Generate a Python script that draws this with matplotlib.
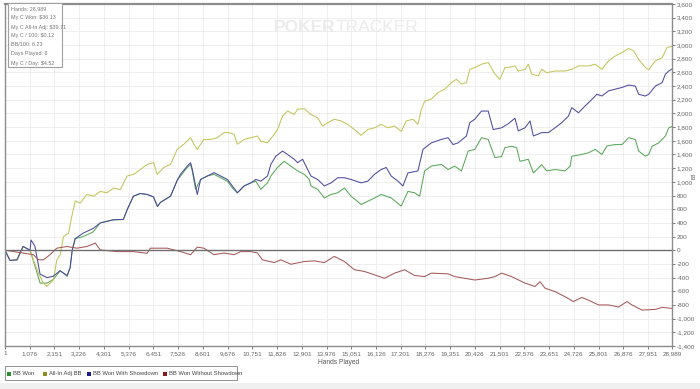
import numpy as np
import matplotlib
matplotlib.use("Agg")
import matplotlib.pyplot as plt
from matplotlib.ticker import FuncFormatter
from matplotlib.patches import Rectangle

plt.rcParams["font.family"] = ["Liberation Sans", "DejaVu Sans"]

# hands played / BB values
green_x = [1, 218, 523, 785, 1090, 1221, 1526, 1831, 2093, 2398, 2703, 2834, 2921, 3052, 3401, 3837,
           4142, 4709, 5145, 5319, 5581, 5886, 6191, 6453, 6627, 6758, 7194, 7499, 7630, 7920, 8066,
           8139, 8284, 8502, 8793, 9084, 9374, 9665, 9883, 10101, 10392, 10682, 10900, 11118, 11409,
           11554, 11845, 12136, 12426, 12717, 13008, 13226, 13298, 13589, 13880, 14170, 14461, 14752,
           15042, 15478, 15914, 16350, 16786, 17222, 17512, 17803, 18021, 18239, 18530, 18966, 19256,
           19547, 19838, 20129, 20419, 20710, 21001, 21292, 21582, 21728, 22018, 22236, 22381, 22745,
           22963, 23326, 23544, 23907, 24343, 24561, 24634, 25070, 25361, 25652, 25942, 26160, 26523,
           26814, 27104, 27395, 27540, 27831, 27976, 28122, 28413, 28703, 28849, 28989]
green_y = [0, -150, -140, 55, 0, -140, -480, -480, -430, -300, -380, -250, 0, 170, 200, 270,
           400, 445, 450, 600, 790, 830, 815, 780, 640, 700, 790, 1030, 1085, 1210, 1255,
           1160, 890, 1035, 1085, 1110, 1060, 1010, 910, 840, 940, 985, 1010, 890, 985,
           1085, 1210, 1300, 1230, 1160, 1110, 1035, 940, 890, 765, 815, 840, 910,
           790, 670, 740, 815, 765, 645, 860, 840, 790, 1160, 1230, 1255, 1180,
           1230, 1160, 1450, 1475, 1645, 1620, 1355, 1370, 1500, 1520, 1500, 1300, 1330,
           1130, 1250, 1160, 1180, 1160, 1230, 1375, 1400, 1425, 1475, 1400, 1525, 1545,
           1545, 1645, 1620, 1450, 1375, 1400, 1520, 1570, 1670, 1790, 1810]

blue_x = [1, 218, 523, 785, 1090, 1133, 1300, 1526, 1831, 2093, 2398, 2703, 2834, 2921, 3052, 3401,
          3837, 4142, 4709, 5145, 5319, 5581, 5886, 6191, 6453, 6627, 6758, 7194, 7499, 7630, 7920,
          8066, 8139, 8284, 8357, 8502, 8793, 9084, 9374, 9665, 9883, 10101, 10392, 10682, 10900,
          11118, 11409, 11554, 11772, 12063, 12281, 12572, 12717, 12935, 13080, 13298, 13589, 13880,
          14170, 14461, 14752, 15042, 15478, 15769, 16059, 16350, 16568, 16786, 17077, 17295, 17512,
          17948, 18166, 18530, 18966, 19256, 19474, 19692, 20055, 20201, 20419, 20710, 21001, 21219,
          21582, 21873, 22164, 22309, 22600, 22818, 22963, 23326, 23617, 23907, 24198, 24488, 24634,
          24924, 25215, 25506, 25724, 25942, 26233, 26523, 26814, 27104, 27395, 27540, 27831, 27976,
          28267, 28558, 28703, 28849, 28989]
blue_y = [0, -150, -140, 55, 0, 150, 60, -350, -400, -380, -300, -370, -250, 0, 170, 250,
          320, 400, 445, 450, 600, 790, 830, 815, 780, 640, 700, 790, 1035, 1110, 1230,
          1280, 1185, 940, 815, 1035, 1085, 1135, 1085, 1035, 940, 840, 940, 985, 1035,
          1010, 1085, 1255, 1375, 1450, 1400, 1330, 1280, 1330, 1230, 1085, 1035, 940,
          985, 1060, 1060, 1035, 985, 1010, 1110, 1180, 1210, 1085, 1010, 940, 1130,
          1160, 1475, 1570, 1620, 1645, 1545, 1570, 1670, 1865, 1915, 2035, 2035, 1765,
          1790, 1850, 1930, 1745, 1790, 1890, 1670, 1720, 1720, 1790, 1865, 1960, 2085,
          2010, 2110, 2205, 2280, 2255, 2330, 2355, 2380, 2415, 2400, 2280, 2255, 2280,
          2400, 2450, 2575, 2620, 2650]

yellow_x = [1, 218, 523, 785, 1090, 1235, 1453, 1670, 1816, 2107, 2252, 2398, 2543, 2761, 2907, 3052,
            3270, 3561, 3852, 4142, 4433, 4724, 5014, 5305, 5595, 5886, 6176, 6467, 6612, 6903, 7194,
            7485, 7775, 8066, 8211, 8357, 8648, 8938, 9229, 9519, 9738, 9956, 10101, 10392, 10682,
            10973, 11118, 11409, 11700, 11845, 12063, 12281, 12572, 12717, 13008, 13298, 13589, 13807,
            14025, 14316, 14606, 14897, 15187, 15478, 15769, 16059, 16350, 16641, 16931, 17222, 17440,
            17730, 17948, 18094, 18239, 18530, 18821, 19111, 19402, 19620, 19838, 20055, 20201, 20419,
            20710, 21001, 21292, 21510, 21728, 22018, 22164, 22309, 22600, 22745, 22891, 23181, 23326,
            23544, 23907, 24343, 24634, 24924, 25361, 25652, 25942, 26233, 26523, 26814, 27104, 27322,
            27540, 27831, 27976, 28267, 28558, 28776, 28989]
yellow_y = [0, -150, -140, 55, 0, -140, -335, -480, -530, -430, -140, -70, 200, 250, 500, 720,
            690, 815, 790, 860, 840, 910, 885, 1085, 1110, 1180, 1255, 1280, 1110, 1210, 1255,
            1475, 1550, 1645, 1550, 1475, 1620, 1620, 1645, 1720, 1720, 1695, 1550, 1620, 1645,
            1670, 1595, 1570, 1695, 1765, 1960, 2035, 1985, 2060, 2070, 1985, 1935, 1815,
            1865, 1915, 1890, 1840, 1765, 1680, 1765, 1790, 1840, 1790, 1815, 1740, 1890,
            1915, 1840, 2060, 2180, 2210, 2305, 2355, 2450, 2500, 2430, 2450, 2645, 2670,
            2720, 2745, 2575, 2500, 2670, 2680, 2695, 2620, 2645, 2720, 2575, 2550, 2645,
            2595, 2620, 2620, 2645, 2695, 2695, 2720, 2645, 2770, 2840, 2890, 2950, 2915,
            2790, 2670, 2640, 2770, 2815, 2965, 2980]

red_x = [1, 1235, 1453, 1670, 1961, 2252, 2689, 3125, 3561, 3924, 4142, 4869, 5595, 6176, 6321, 7048,
         7630, 8066, 8357, 8648, 9084, 9519, 9956, 10247, 10682, 10973, 11191, 11700, 11990, 12426,
         13008, 13444, 13880, 14316, 14752, 15187, 15623, 16059, 16495, 16931, 17367, 17803, 18239,
         18530, 19256, 19547, 19983, 20419, 21001, 21292, 21582, 22018, 22600, 23036, 23254, 23472,
         23907, 24343, 24706, 25070, 25361, 25797, 26233, 26669, 27032, 27250, 27686, 28267, 28558,
         28989]
red_y = [0, -65, -140, -140, -65, 30, 55, 30, 55, 105, 5, -20, -20, -45, 30, 30,
         -20, -65, 45, 30, -65, -40, -65, -20, -20, -40, -140, -180, -140, -205,
         -165, -155, -180, -90, -165, -285, -310, -360, -410, -335, -285, -370, -385,
         -335, -345, -385, -410, -435, -410, -385, -335, -385, -480, -530, -460, -555,
         -605, -680, -750, -690, -730, -800, -800, -830, -750, -800, -875, -865, -835,
         -850]

x_ticks = [1] + list(range(1076, 28989, 1075)) + [28989]
y_ticks = list(range(-1400, 3601, 200))

info_lines = ["Hands: 28,989", "My C Won: $36.13", "My C All-In Adj: $39.71", "My C / 100: $0.12",
              "BB/100: 6.23", "Days Played: 8", "My C / Day: $4.52"]

series = [("BB Won", green_x, green_y, "#58a858", "#2e8b2e"),
          ("All-In Adj BB", yellow_x, yellow_y, "#c4c45a", "#8e8e1e"),
          ("BB Won With Showdown", blue_x, blue_y, "#4b4b9e", "#1c1c86"),
          ("BB Won Without Showdown", red_x, red_y, "#a55858", "#8b1a1a")]

fig = plt.figure(figsize=(7, 3.89), dpi=100)
ax = fig.add_axes([5/700, 1 - 346/389, 667/700, 342/389])

for name, xs, ys, col, _ in series:
    ax.plot(xs, ys, color=col, lw=0.75)

ax.axhline(0, color="#707070", lw=1.0)
ax.set_xlim(1, 28989)
ax.set_ylim(-1400, 3600)
ax.set_xticks(x_ticks)
ax.set_yticks(y_ticks)
fmt = FuncFormatter(lambda v, p: f"{int(v):,}")
ax.xaxis.set_major_formatter(fmt)
ax.yaxis.set_major_formatter(fmt)
ax.yaxis.tick_right()
ax.tick_params(axis="both", labelsize=4.6, colors="#666666", length=2, width=0.6, pad=1.5)
ax.grid(True, color="#ececec", lw=0.6)
for s in ["top", "left", "right", "bottom"]:
    ax.spines[s].set_color("#8c8c8c")
    ax.spines[s].set_linewidth(1.0)
ax.spines["top"].set_linewidth(1.6)
ax.set_xlabel("Hands Played", fontsize=4.8, color="#555555", labelpad=2)
fig.text(694/700, 1 - 176/389, "BB", fontsize=3.5, color="#555555", rotation=90,
         ha="center", va="center")

# watermark
ax.text(0.496, 0.93, "POKER", transform=ax.transAxes, fontsize=12.5, fontweight="bold",
        color="#ebebeb", ha="right", va="center")
ax.text(0.496, 0.93, "TRACKER", transform=ax.transAxes, fontsize=12.5,
        color="#ebebeb", ha="left", va="center")

# stats box
fig.patches.append(Rectangle((8/700, 1 - 67/389), 54/700, 64/389, transform=fig.transFigure,
                             facecolor="white", edgecolor="#a0a0a0", lw=0.8))
for i, line in enumerate(info_lines):
    fig.text(11/700, 1 - (9 + i * 9) / 389, line, fontsize=3.9, color="#777777", va="center")

# legend box
fig.patches.append(Rectangle((5/700, 1 - 380/389), 232/700, 14/389, transform=fig.transFigure,
                             facecolor="white", edgecolor="#909090", lw=0.7))
leg_pos = [7, 43, 87, 163]
for (name, _, _, _, sq), px in zip(series, leg_pos):
    fig.patches.append(Rectangle((px/700, 1 - 375.5/389), 4/700, 4/389, transform=fig.transFigure,
                                 facecolor=sq, edgecolor="none"))
    fig.text((px + 6)/700, 1 - 373.5/389, name, fontsize=4.2, color="#444444", va="center")

# grey footer band
fig.patches.append(Rectangle((0, 0), 1, 6/389, transform=fig.transFigure,
                             facecolor="#f0f0f0", edgecolor="none"))

fig.savefig("out.png", dpi=100)
